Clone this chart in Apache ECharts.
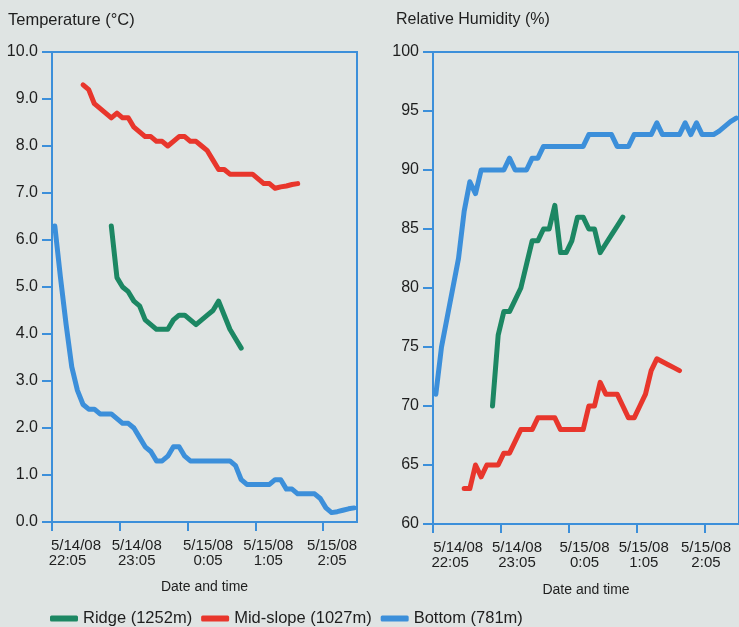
<!DOCTYPE html>
<html>
<head>
<meta charset="utf-8">
<script src="https://cdn.jsdelivr.net/npm/echarts@6/dist/echarts.min.js"></script>
<style>
html,body{margin:0;padding:0;background:#dfe4e3;}
#c{width:739px;height:627px;}
</style>
</head>
<body>
<div id="c"></div>
<script>
// 5-minute time slots starting 5/14/08 22:05
var categories = ['22:05','22:10','22:15','22:20','22:25','22:30','22:35','22:40','22:45','22:50','22:55',
  '23:00','23:05','23:10','23:15','23:20','23:25','23:30','23:35','23:40','23:45','23:50','23:55',
  '0:00','0:05','0:10','0:15','0:20','0:25','0:30','0:35','0:40','0:45','0:50','0:55',
  '1:00','1:05','1:10','1:15','1:20','1:25','1:30','1:35','1:40','1:45','1:50','1:55',
  '2:00','2:05','2:10','2:15','2:20','2:25','2:30'];
var tickMinutes = [0, 60, 120, 180, 240];
var tickDates = ['5/14/08', '5/14/08', '5/15/08', '5/15/08', '5/15/08'];
var tickTimes = ['22:05', '23:05', '0:05', '1:05', '2:05'];
var seriesNames = ['Ridge (1252m)', 'Mid-slope (1027m)', 'Bottom (781m)'];

// Temperature (°C)
var ridgeTempStart = 10;
var ridgeTemp = [6.3,5.2,5.0,4.9,4.7,4.6,4.3,4.2,4.1,4.1,4.1,4.3,4.4,4.4,4.3,4.2,4.3,4.4,4.5,4.7,4.4,4.1,3.9,3.7];
var midTempStart = 5;
var midTemp = [9.3,9.2,8.9,8.8,8.7,8.6,8.7,8.6,8.6,8.4,8.3,8.2,8.2,8.1,8.1,8.0,8.1,8.2,8.2,8.1,8.1,8.0,7.9,7.7,7.5,7.5,7.4,7.4,7.4,7.4,7.4,7.3,7.2,7.2,7.1,7.13,7.15,7.18,7.2];
var bottomTempStart = 0;
var bottomTemp = [6.3,5.2,4.2,3.3,2.8,2.5,2.4,2.4,2.3,2.3,2.3,2.2,2.1,2.1,2.0,1.8,1.6,1.5,1.3,1.3,1.4,1.6,1.6,1.4,1.3,1.3,1.3,1.3,1.3,1.3,1.3,1.3,1.2,0.9,0.8,0.8,0.8,0.8,0.8,0.9,0.9,0.7,0.7,0.6,0.6,0.6,0.6,0.5,0.3,0.2,0.22,0.25,0.28,0.3];

// Relative humidity (%)
var ridgeRHStart = 10;
var ridgeRH = [70,76,78,78,79,80,82,84,84,85,85,87,83,83,84,86,86,85,85,83,83.75,84.5,85.25,86];
var midRHStart = 5;
var midRH = [63,63,65,64,65,65,65,66,66,67,68,68,68,69,69,69,69,68,68,68,68,68,70,70,72,71,71,71,70,69,69,70,71,73,74,73.75,73.5,73.25,73];
var bottomRHStart = 0;
var bottomRH = [71,75,77.5,80,82.5,86.5,89,88,90,90,90,90,90,91,90,90,90,91,91,92,92,92,92,92,92,92,92,93,93,93,93,93,92,92,92,93,93,93,93,94,93,93,93,93,94,93,94,93,93,93,93.3,93.7,94.1,94.4];

function pad(start, vals) {
  var out = [];
  for (var i = 0; i < categories.length; i++) {
    var k = i - start;
    out.push(k >= 0 && k < vals.length ? vals[k] : null);
  }
  return out;
}

var BLUE = '#3c8fda', RED = '#e8362c', GREEN = '#1c8763';
var TXT = '#1e1e1e';
var FONT = '"Liberation Sans", Arial, Helvetica, sans-serif';
var SPAN = 270; // minutes covered by each x axis

// layout: label centre shift (px) right of each tick; first label's second line pulled left (px)
var layoutL = {left: 52, width: 305, shift: [24, 17, 20.5, 13, 9], firstPull: 17};
var layoutR = {left: 433, width: 316, shift: [26, 16.5, 16, 7, 1], firstPull: 16};

function tickAxis(gi, gap) {
  return {
    type: 'value', gridIndex: gi, position: 'bottom', min: 0, max: SPAN, interval: 60,
    axisLine: {show: true, lineStyle: {color: BLUE, width: 2}},
    axisTick: {show: true, length: 9, interval: 0, customValues: tickMinutes, lineStyle: {color: BLUE, width: 2}},
    axisLabel: {show: false},
    splitLine: {show: false},
    name: 'Date and time', nameLocation: 'middle', nameGap: gap,
    nameTextStyle: {fontSize: 14, color: TXT, fontFamily: FONT}
  };
}
function labelAxis(gi, lay) {
  var pxPerMin = lay.width / SPAN;
  var vals = tickMinutes.map(function (m, k) { return m + lay.shift[k] / pxPerMin; });
  return {
    type: 'value', gridIndex: gi, position: 'bottom', min: 0, max: SPAN,
    axisLine: {show: false}, axisTick: {show: false}, splitLine: {show: false},
    axisLabel: {
      show: true, margin: 16, interval: 0, customValues: vals, hideOverlap: false,
      showMinLabel: true, showMaxLabel: true,
      formatter: function (v) {
        var k = -1;
        for (var i = 0; i < vals.length; i++) if (Math.abs(vals[i] - v) < 0.01) k = i;
        if (k < 0) return '';
        var second = k === 0 ? '{c|' + tickTimes[k] + '}' : '{b|' + tickTimes[k] + '}';
        return '{a|' + tickDates[k] + '}\n' + second;
      },
      rich: {
        a: {fontSize: 15, lineHeight: 15, color: TXT, fontFamily: FONT},
        b: {fontSize: 15, lineHeight: 15, color: TXT, fontFamily: FONT},
        c: {fontSize: 15, lineHeight: 15, color: TXT, fontFamily: FONT, padding: [0, lay.firstPull, 0, 0]}
      }
    }
  };
}
function catAxis(gi) {
  return {type: 'category', gridIndex: gi, position: 'bottom', data: categories, boundaryGap: true, show: false};
}
function valAxis(gi, mn, mx, iv, dec) {
  return {
    type: 'value', gridIndex: gi, min: mn, max: mx, interval: iv,
    axisLine: {show: true, lineStyle: {color: BLUE, width: 2}},
    axisTick: {show: true, length: 10, lineStyle: {color: BLUE, width: 2}},
    axisLabel: {margin: 14, fontSize: 16, color: TXT, fontFamily: FONT, showMinLabel: true, showMaxLabel: true,
      formatter: function (v) { return v.toFixed(dec); }},
    splitLine: {show: false}
  };
}
function line(name, xi, yi, data, color) {
  return {
    name: name, type: 'line', xAxisIndex: xi, yAxisIndex: yi, data: data,
    showSymbol: false, symbol: 'none', connectNulls: false,
    itemStyle: {color: color},
    lineStyle: {color: color, width: 5, cap: 'round', join: 'round'}
  };
}

var chart = echarts.init(document.getElementById('c'), null, {renderer: 'canvas'});
chart.setOption({
  backgroundColor: '#dfe4e3',
  animation: false,
  textStyle: {fontFamily: FONT},
  title: [
    {text: 'Temperature (°C)', left: 3, top: 7, textStyle: {fontSize: 16.5, fontWeight: 'normal', color: TXT, fontFamily: FONT}},
    {text: 'Relative Humidity (%)', left: 391, top: 7, textStyle: {fontSize: 16, fontWeight: 'normal', color: TXT, fontFamily: FONT}}
  ],
  legend: {
    data: seriesNames, left: 45, top: 605, icon: 'roundRect', itemWidth: 28, itemHeight: 6, itemGap: 9,
    textStyle: {fontSize: 16.5, color: TXT, fontFamily: FONT}
  },
  grid: [
    {left: layoutL.left, top: 52, width: layoutL.width, height: 470, show: true, borderColor: BLUE, borderWidth: 2, backgroundColor: 'transparent'},
    {left: layoutR.left, top: 52, width: layoutR.width, height: 472, show: true, borderColor: BLUE, borderWidth: 2, backgroundColor: 'transparent'}
  ],
  xAxis: [tickAxis(0, 58), catAxis(0), labelAxis(0, layoutL), tickAxis(1, 59), catAxis(1), labelAxis(1, layoutR)],
  yAxis: [valAxis(0, 0, 10, 1, 1), valAxis(1, 60, 100, 5, 0)],
  series: [
    line(seriesNames[0], 1, 0, pad(ridgeTempStart, ridgeTemp), GREEN),
    line(seriesNames[1], 1, 0, pad(midTempStart, midTemp), RED),
    line(seriesNames[2], 1, 0, pad(bottomTempStart, bottomTemp), BLUE),
    line(seriesNames[0], 4, 1, pad(ridgeRHStart, ridgeRH), GREEN),
    line(seriesNames[1], 4, 1, pad(midRHStart, midRH), RED),
    line(seriesNames[2], 4, 1, pad(bottomRHStart, bottomRH), BLUE)
  ]
});
</script>
</body>
</html>
